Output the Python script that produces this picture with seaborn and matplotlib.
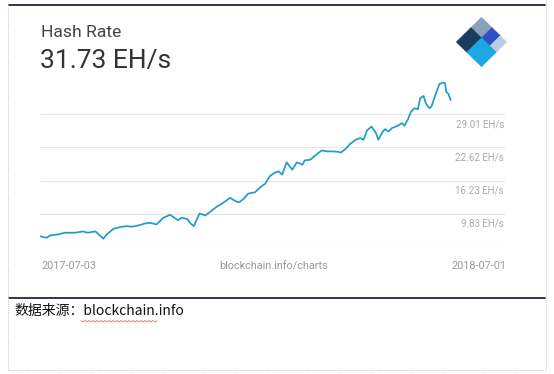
import numpy as np
import pandas as pd
import matplotlib
matplotlib.use("Agg")
import matplotlib.pyplot as plt
from matplotlib.lines import Line2D
from matplotlib.patches import Polygon
import seaborn as sns

# hash rate values (EH/s)
dates = [
    "2017-07-03", "2017-07-09", "2017-07-12", "2017-07-19", "2017-07-25",
    "2017-08-03", "2017-08-10", "2017-08-14", "2017-08-21", "2017-08-23",
    "2017-08-28", "2017-08-31", "2017-09-06", "2017-09-13", "2017-09-18",
    "2017-09-22", "2017-09-28", "2017-10-04", "2017-10-08", "2017-10-14",
    "2017-10-20", "2017-10-26", "2017-10-31", "2017-11-02", "2017-11-05",
    "2017-11-10", "2017-11-13", "2017-11-16", "2017-11-21", "2017-11-26",
    "2017-11-30", "2017-12-06", "2017-12-11", "2017-12-18", "2017-12-23",
    "2017-12-26", "2017-12-30", "2018-01-03", "2018-01-09", "2018-01-14",
    "2018-01-18", "2018-01-22", "2018-01-26", "2018-01-30", "2018-02-02",
    "2018-02-06", "2018-02-11", "2018-02-15", "2018-02-20", "2018-02-22",
    "2018-02-27", "2018-03-03", "2018-03-09", "2018-03-14", "2018-03-18",
    "2018-03-23", "2018-03-26", "2018-03-30", "2018-04-03", "2018-04-08",
    "2018-04-12", "2018-04-15", "2018-04-18", "2018-04-22", "2018-04-26",
    "2018-04-28", "2018-05-02", "2018-05-04", "2018-05-07", "2018-05-10",
    "2018-05-15", "2018-05-19", "2018-05-21", "2018-05-24", "2018-05-27",
    "2018-05-30", "2018-06-02", "2018-06-04", "2018-06-07", "2018-06-09",
    "2018-06-12", "2018-06-14", "2018-06-18", "2018-06-21", "2018-06-24",
    "2018-06-26", "2018-06-27", "2018-06-29", "2018-07-01",
]
hash_rate = [
    5.50, 5.23, 5.67, 5.86, 6.19,
    6.19, 6.44, 6.19, 6.44, 6.05,
    5.03, 5.86, 6.95, 7.34, 7.45,
    7.34, 7.59, 7.97, 8.10, 7.78,
    9.06, 9.64, 8.87, 8.60, 9.06,
    8.87, 7.97, 7.45, 9.89, 9.50,
    10.14, 11.17, 11.81, 12.90, 12.25,
    12.05, 12.71, 13.72, 13.97, 15.01,
    15.60, 17.04, 17.69, 18.00, 17.37,
    19.73, 18.33, 19.73, 19.29, 20.11,
    20.24, 21.01, 22.03, 21.84, 21.84,
    21.78, 21.64, 22.30, 23.26, 24.08,
    24.41, 24.08, 25.87, 26.63, 25.37,
    24.08, 25.67, 26.13, 25.67, 26.32,
    26.77, 27.28, 26.77, 27.92, 29.51,
    30.16, 29.97, 32.08, 32.52, 31.12,
    30.16, 30.47, 33.04, 34.82, 35.07,
    34.96, 33.35, 32.90, 31.73,
]
grid_values = [3.44, 9.83, 16.23, 22.62, 29.01]
grid_labels = ["", "9.83 EH/s", "16.23 EH/s", "22.62 EH/s", "29.01 EH/s"]

df = pd.DataFrame({"date": pd.to_datetime(dates), "hash_rate": hash_rate})

sns.set_theme(style="white")
plt.rcParams["font.family"] = ["Roboto", "DejaVu Sans"]

W, H = 554, 374
fig = plt.figure(figsize=(W / 100, H / 100), dpi=100)


def fx(px):
    return px / W


def fy(py):
    return 1 - py / H


def hline(x0, x1, y, **kw):
    fig.add_artist(Line2D([fx(x0), fx(x1)], [fy(y), fy(y)], transform=fig.transFigure, **kw))


def vline(x, y0, y1, **kw):
    fig.add_artist(Line2D([fx(x), fx(x)], [fy(y0), fy(y1)], transform=fig.transFigure, **kw))


# page frame (document table borders)
hline(9, 545, 4.5, color="#111133", lw=1.2)
hline(9, 545, 297.5, color="#111133", lw=1.2)
vline(8, 8, 370, color="#c8c8c8", lw=0.7, ls=(0, (1, 1)))
vline(545.5, 0, 370, color="#c8c8c8", lw=0.7, ls=(0, (1, 1)))
hline(8, 545, 369.5, color="#c8c8c8", lw=0.7, ls=(0, (1, 1)))

# main chart
ax = fig.add_axes([fx(40), fy(247), fx(505) - fx(40), fy(75) - fy(247)])
for v in grid_values:
    ax.axhline(v, color="#e6e6e6", lw=0.8, zorder=0)
sns.lineplot(data=df, x="date", y="hash_rate", ax=ax, color="#1e9cc8", linewidth=1.25)
ax.set_ylim(3.44, 36.55)
ax.set_xlim(pd.Timestamp("2017-07-03"), pd.Timestamp("2018-08-18"))
ax.set_axis_off()

for v, lab in zip(grid_values, grid_labels):
    ax.annotate(lab, xy=(1, v), xycoords=("axes fraction", "data"),
                xytext=(-0.8, -7.2), textcoords="offset points",
                ha="right", va="center", fontsize=7, color="#aaaaaa")

fig.text(fx(42), fy(266), "2017-07-03", ha="left", va="center", fontsize=7.8, color="#999999")
fig.text(fx(274), fy(266), "blockchain.info/charts", ha="center", va="center", fontsize=7.8, color="#999999")
fig.text(fx(507), fy(266), "2018-07-01", ha="right", va="center", fontsize=7.8, color="#999999")

fig.text(fx(41), fy(32.5), "Hash Rate", ha="left", va="center", fontsize=12.6, color="#444444")
fig.text(fx(40), fy(61), "31.73 EH/s", ha="left", va="center", fontsize=19, color="#333333")

# logo: rotated square split into blocks
lax = fig.add_axes([fx(455), fy(68), fx(508) - fx(455), fy(16) - fy(68)])
lax.set_xlim(-1.06, 1.06)
lax.set_ylim(-1.06, 1.06)
lax.set_axis_off()


def to_xy(u, v):
    return (u - v), 1 - (u + v)


blocks = [
    (0.0, 0.42, 0.0, 0.42, "#8aa2b8"),
    (0.0, 0.42, 0.42, 1.0, "#1b3a60"),
    (0.42, 0.75, 0.0, 0.42, "#2f4fc6"),
    (0.75, 1.0, 0.0, 0.42, "#b9cde2"),
    (0.42, 1.0, 0.42, 1.0, "#1ca6e4"),
]
for u0, u1, v0, v1, c in blocks:
    pts = [to_xy(u0, v0), to_xy(u1, v0), to_xy(u1, v1), to_xy(u0, v1)]
    lax.add_patch(Polygon(pts, closed=True, facecolor=c, edgecolor=c, lw=0.6, joinstyle="round"))

# caption below the chart
fig.text(fx(14), fy(311), "数据来源：blockchain.info", ha="left", va="center", fontsize=10,
         color="#111111", family=["Noto Sans CJK SC", "DejaVu Sans"])
sq_x = np.arange(81, 158, 2.0)
sq_y = np.where(np.arange(len(sq_x)) % 2 == 0, 320.5, 322.0)
fig.add_artist(Line2D(fx(sq_x), fy(sq_y), transform=fig.transFigure, color="#e05050", lw=0.5))

fig.savefig("out.png", dpi=100)
